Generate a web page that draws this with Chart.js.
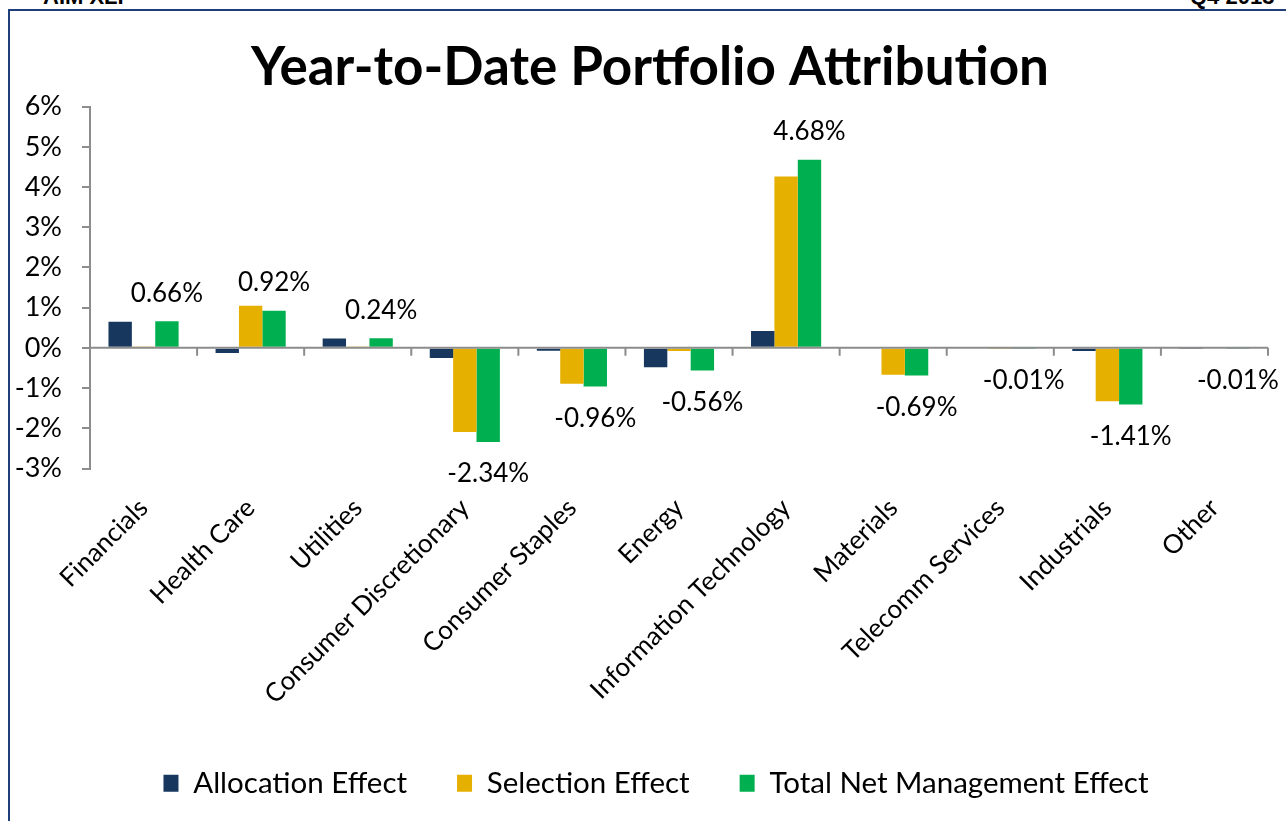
<!DOCTYPE html>
<html>
<head>
<meta charset="utf-8">
<script src="https://cdn.jsdelivr.net/npm/chart.js@4.4.1/dist/chart.umd.min.js"></script>
<style>
  html, body { margin: 0; padding: 0; background: #fff; overflow: hidden; }
  #wrap { position: relative; width: 1286px; height: 821px; }
  #frame { position: absolute; left: 8px; top: 9px; right: -4px; bottom: -4px;
           border-top: 2px solid #1f3f7a; border-left: 2px solid #1f3f7a; }
  .hdr { position: absolute; top: -14px; font: bold 22px "Liberation Sans", Arial, sans-serif;
         line-height: 22px; color: #000; white-space: nowrap; }
  canvas { position: absolute; left: 0; top: 0; }
</style>
</head>
<body>
<div id="wrap">
  <div id="frame"></div>
  <div class="hdr" style="left:43px">AIM XLF</div>
  <div class="hdr" style="left:1190px">Q4 2013</div>
  <canvas id="attribution-chart" width="1286" height="821"></canvas>
</div>
<script>
// Sectors along the x axis
const categories = ["Financials", "Health Care", "Utilities", "Consumer Discretionary", "Consumer Staples",
    "Energy", "Information Technology", "Materials", "Telecomm Services", "Industrials", "Other"];

// Effects in percent
const allocationEffect = [0.65, -0.13, 0.23, -0.25, -0.07, -0.48, 0.42, -0.02, 0.00, -0.08, -0.01];
const selectionEffect = [0.01, 1.05, 0.01, -2.09, -0.89, -0.08, 4.26, -0.67, -0.01, -1.33, 0.00];
const totalEffect = [0.66, 0.92, 0.24, -2.34, -0.96, -0.56, 4.68, -0.69, -0.01, -1.41, -0.01];

// Y axis range
const yMin = -3;
const yMax = 6;

const axisGrey = "#8c8c8c";
const font = "Lato";

// Zero line with little tick marks between the sectors
const zeroLinePlugin = {
    id: "zeroLine",
    afterDatasetsDraw(chart) {
        const ctx = chart.ctx;
        const x = chart.scales.x;
        const y0 = chart.scales.y.getPixelForValue(0);
        ctx.save();
        ctx.strokeStyle = axisGrey;
        ctx.lineWidth = 2;
        ctx.beginPath();
        ctx.moveTo(chart.chartArea.left, y0);
        ctx.lineTo(chart.chartArea.right, y0);
        for (let i = 0; i < categories.length; i++) {
            const bx = x.getPixelForValue(i + 0.5);
            ctx.moveTo(bx, y0);
            ctx.lineTo(bx, y0 + 8);
        }
        ctx.stroke();
        ctx.restore();
    }
};

// Labels on the total bars only
const totalLabelPlugin = {
    id: "totalLabels",
    afterDatasetsDraw(chart) {
        const ctx = chart.ctx;
        const meta = chart.getDatasetMeta(2);
        ctx.save();
        ctx.font = "26px " + font;
        ctx.fillStyle = "#000";
        ctx.textAlign = "center";
        ctx.textBaseline = "middle";
        meta.data.forEach(function(bar, i) {
            const v = totalEffect[i];
            const ty = v >= 0 ? bar.y - 28 : bar.y + 32;
            ctx.fillText(v.toFixed(2) + "%", bar.x, ty);
        });
        ctx.restore();
    }
};

// Title and legend sit a little right of the canvas centre in the original
const shiftBoxesPlugin = {
    id: "shiftBoxes",
    afterLayout(chart) {
        chart.titleBlock.left += 32;
        chart.legend.left += 44;
    }
};

const ctx = document.getElementById("attribution-chart").getContext("2d");

const attributionChart = new Chart(ctx, {
    type: "bar",
    data: {
        labels: categories,
        datasets: [
            { label: "Allocation Effect", data: allocationEffect, backgroundColor: "#17375E" },
            { label: "Selection Effect", data: selectionEffect, backgroundColor: "#E6B000" },
            { label: "Total Net Management Effect", data: totalEffect, backgroundColor: "#00B050" }
        ]
    },
    options: {
        responsive: false,
        animation: false,
        layout: { padding: { left: 0, right: 18, top: 10, bottom: 13 } },
        datasets: {
            bar: { categoryPercentage: 0.655, barPercentage: 1.0 }
        },
        plugins: {
            title: {
                display: true,
                text: "Year-to-Date Portfolio Attribution",
                color: "#000",
                font: { family: font, size: 53, weight: "bold" },
                padding: { top: 26, bottom: 7 }
            },
            legend: {
                position: "bottom",
                labels: {
                    color: "#000",
                    font: { family: font, size: 29.5 },
                    boxWidth: 15,
                    boxHeight: 17,
                    padding: 50
                }
            },
            tooltip: { enabled: false }
        },
        scales: {
            x: {
                grid: { display: false },
                border: { display: false },
                ticks: {
                    color: "#000",
                    font: { family: font, size: 26 },
                    minRotation: 45,
                    maxRotation: 45,
                    padding: 16,
                    autoSkip: false
                },
                afterFit(scale) { scale.height = 250; }
            },
            y: {
                min: yMin,
                max: yMax,
                grid: { drawOnChartArea: false, drawTicks: true, tickLength: 8, color: axisGrey, lineWidth: 2 },
                border: { display: true, color: axisGrey, width: 2 },
                ticks: {
                    stepSize: 1,
                    color: "#000",
                    font: { family: font, size: 27 },
                    padding: 20,
                    callback: function(value) { return value + "%"; }
                },
                afterFit(scale) { scale.width = 90; }
            }
        }
    },
    plugins: [zeroLinePlugin, totalLabelPlugin, shiftBoxesPlugin]
});
</script>
</body>
</html>
